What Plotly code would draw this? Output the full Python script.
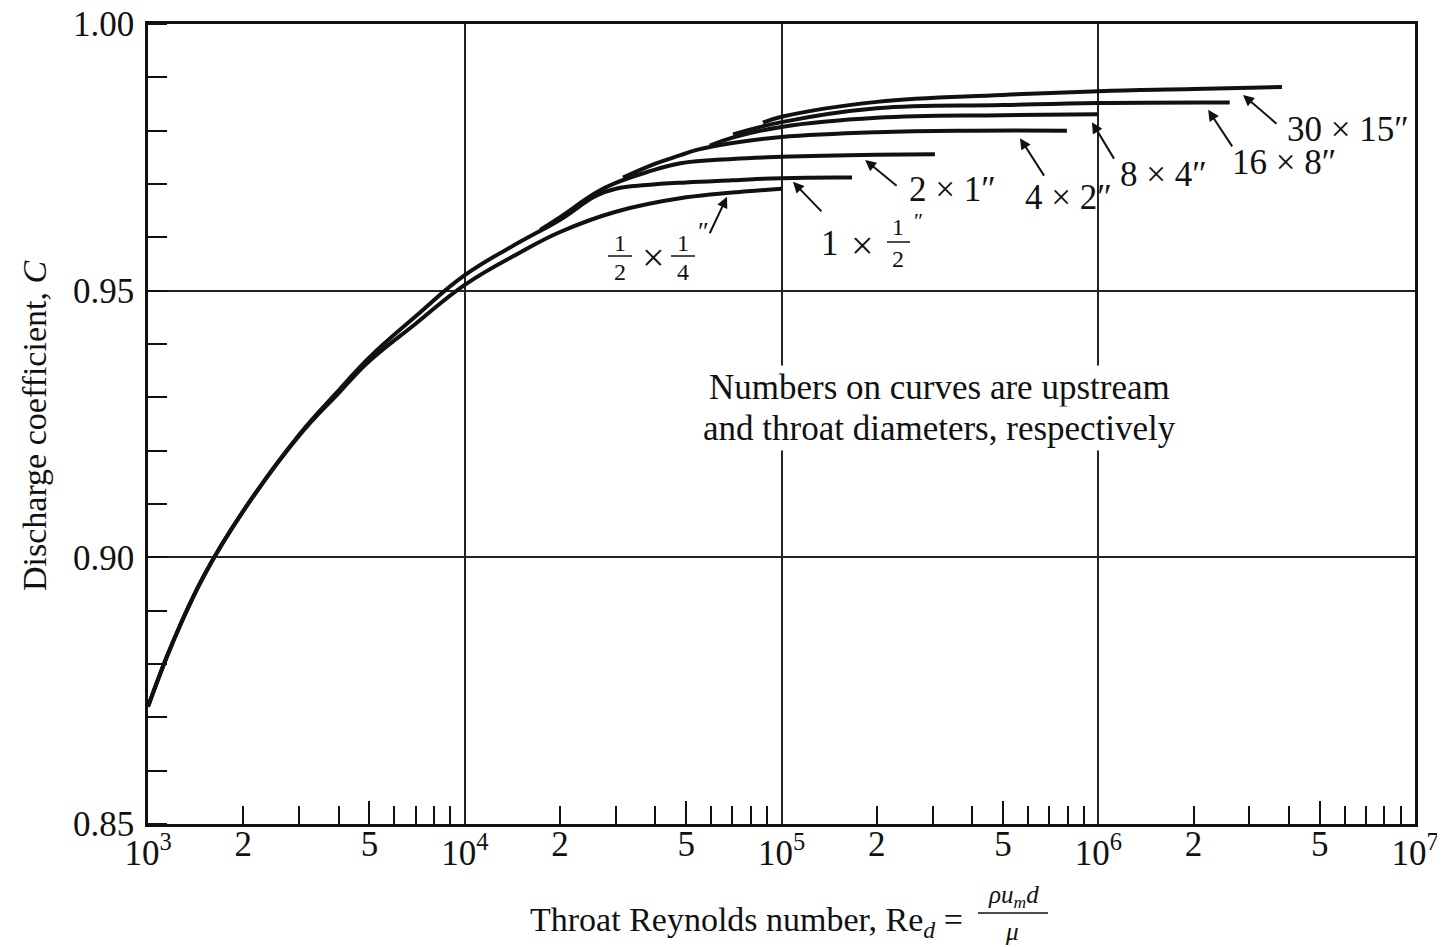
import plotly.graph_objects as go

# ---------------- data ----------------
re_half_quarter = [1000, 1200, 1500, 2000, 3000, 4000, 5000, 7000, 10000, 15000, 20000, 30000, 50000, 70000, 100000]
c_half_quarter = [0.872, 0.8842, 0.8965, 0.9087, 0.9228, 0.9308, 0.9368, 0.9438, 0.9511, 0.9572, 0.9610, 0.9648, 0.9675, 0.9684, 0.9691]

re_one_half = [1000, 1200, 1500, 2000, 3000, 4000, 5000, 7000, 10000, 15000, 20000, 26000, 30000, 37500, 50000, 70000, 100000, 167000]
c_one_half = [0.872, 0.8842, 0.8965, 0.9087, 0.9230, 0.9313, 0.9375, 0.9452, 0.9529, 0.9592, 0.9633, 0.9678, 0.9691, 0.9698, 0.9703, 0.9707, 0.9711, 0.9712]

re_two_one = [17300, 20000, 26000, 30000, 37500, 48000, 70000, 100000, 200000, 305000]
c_two_one = [0.9614, 0.9638, 0.9684, 0.9702, 0.9722, 0.9739, 0.9747, 0.9751, 0.9755, 0.9756]

re_four_two = [31600, 40000, 48000, 54000, 70000, 100000, 200000, 400000, 796000]
c_four_two = [0.9712, 0.9738, 0.9754, 0.9764, 0.9777, 0.9788, 0.9797, 0.9800, 0.9800]

re_eight_four = [59400, 70000, 100000, 200000, 500000, 1000000]
c_eight_four = [0.9772, 0.9787, 0.9807, 0.9824, 0.9829, 0.9831]

re_sixteen_eight = [70300, 100000, 200000, 500000, 1000000, 2600000]
c_sixteen_eight = [0.9793, 0.9816, 0.9842, 0.9848, 0.9852, 0.9853]

re_thirty_fifteen = [87400, 100000, 200000, 500000, 1000000, 2000000, 3800000]
c_thirty_fifteen = [0.9815, 0.9826, 0.9854, 0.9867, 0.9874, 0.9878, 0.9882]

decades = [1e3, 1e4, 1e5, 1e6, 1e7]
decade_labels = ["10<sup>3</sup>", "10<sup>4</sup>", "10<sup>5</sup>", "10<sup>6</sup>", "10<sup>7</sup>"]
label_mults = [2, 5]
minor_mults = [2, 3, 4, 6, 7, 8, 9]
y_ticks = [0.85, 0.90, 0.95, 1.00]
y_labels = ["0.85", "0.90", "0.95", "1.00"]

# curve label -> arrow head (log10 Re, C) and tail offset in px
arrow_heads = [
    (6.457, 0.9867, 35, 30),
    (6.347, 0.9839, 25, 38),
    (5.980, 0.9816, 23, 38),
    (5.753, 0.9786, 25, 39),
    (5.264, 0.9745, 33, 27),
    (5.036, 0.9704, 30, 31),
    (4.828, 0.9676, -18, 38),
]

# ---------------- figure ----------------
FONT = "Liberation Serif"
INK = "#111111"
OFF = 8                      # page body margin
W, H = 1445 - OFF, 947 - OFF
L, R, T, B = 148 - OFF, 30, 24 - OFF, (H + OFF) - 824
PW, PH = W - L - R, H - T - B


def P(px, py):
    # page pixel -> paper coordinates
    return (px - OFF - L) / PW, (H - B - (py - OFF)) / PH


fig = go.Figure()
curves = [
    (re_half_quarter, c_half_quarter, "x2"),
    (re_one_half, c_one_half, "x3"),
    (re_two_one, c_two_one, "x"),
    (re_four_two, c_four_two, "x"),
    (re_eight_four, c_eight_four, "x"),
    (re_sixteen_eight, c_sixteen_eight, "x"),
    (re_thirty_fifteen, c_thirty_fifteen, "x"),
]
for xs, ys, xa in curves:
    fig.add_trace(go.Scatter(x=xs, y=ys, mode="lines", xaxis=xa, yaxis="y",
                             line=dict(color=INK, width=4, shape="spline", smoothing=1.2),
                             hoverinfo="skip", showlegend=False))

two_five_vals, two_five_text, five_vals, minor_vals = [], [], [], []
for d in decades[:-1]:
    for m in label_mults:
        two_five_vals.append(m * d)
        two_five_text.append(str(m))
    five_vals.append(5 * d)
    for m in minor_mults:
        minor_vals.append(m * d)

tickfont = dict(family=FONT, size=35, color=INK)
fig.update_layout(
    width=W, height=H,
    margin=dict(l=L, r=R, t=T, b=B, autoexpand=False),
    paper_bgcolor="white", plot_bgcolor="white",
    font=dict(family=FONT, color=INK),
    xaxis=dict(type="log", range=[3, 7], tickmode="array", tickvals=decades, ticktext=decade_labels,
               ticks="", showgrid=True, gridcolor="#222222", gridwidth=2, automargin=False,
               showline=True, linecolor=INK, linewidth=2.5, mirror=True, ticklabeloverflow="allow",
               tickfont=tickfont, ticklabelstandoff=-4, zeroline=False,
               minor=dict(tickmode="array", tickvals=minor_vals, ticks="inside", ticklen=18,
                          tickwidth=2, tickcolor=INK, showgrid=False)),
    xaxis2=dict(type="log", range=[3, 7], overlaying="x", anchor="y", side="bottom",
                tickmode="array", tickvals=two_five_vals, ticktext=two_five_text, automargin=False,
                ticks="", showgrid=False, showline=False, zeroline=False, ticklabeloverflow="allow",
                tickfont=tickfont, ticklabelstandoff=-4),
    xaxis3=dict(type="log", range=[3, 7], overlaying="x", anchor="y", side="bottom",
                tickmode="array", tickvals=five_vals, ticks="inside", ticklen=23, tickwidth=2,
                automargin=False,
                tickcolor=INK, showticklabels=False, showgrid=False, showline=False, zeroline=False),
    yaxis=dict(range=[0.85, 1.00], tickmode="array", tickvals=y_ticks, ticktext=y_labels,
               ticks="", showgrid=True, gridcolor="#222222", gridwidth=2, automargin=False,
               showline=True, linecolor=INK, linewidth=2.5, mirror=True, zeroline=False,
               tickfont=tickfont, ticklabelstandoff=4, ticklabeloverflow="allow",
               minor=dict(dtick=0.01, ticks="inside", ticklen=19, tickwidth=2, tickcolor=INK,
                          showgrid=False)),
)

ann = []
shapes = []


def txt(s, px, py, size=35, bg=None, angle=0):
    x, y = P(px, py)
    d = dict(text=s, x=x, y=y, xref="paper", yref="paper", xanchor="center", yanchor="middle",
             showarrow=False, font=dict(family=FONT, size=size, color=INK), textangle=angle,
             borderpad=0)
    if bg:
        d["bgcolor"] = bg
        d["borderpad"] = 2
    ann.append(d)


def bar(px0, px1, py):
    x0, y = P(px0, py)
    x1, _ = P(px1, py)
    shapes.append(dict(type="line", xref="paper", yref="paper", x0=x0, x1=x1, y0=y, y1=y,
                       line=dict(color=INK, width=1.5)))


# note text
txt("Numbers on curves are upstream", 939, 388, bg="white")
txt("and throat diameters, respectively", 939, 428, bg="white")

# curve labels
txt("2 × 1″", 952, 189)
txt("4 × 2″", 1068, 197)
txt("8 × 4″", 1163, 174)
txt("16 × 8″", 1284, 163)
txt("30 × 15″", 1348, 130)

# 1 x 1/2"
txt("1", 830, 243)
txt("×", 862, 245, size=40)
txt("1", 898, 227, size=24)
bar(887, 910, 242)
txt("2", 898, 259, size=24)
txt("″", 918, 221, size=22)

# 1/2 x 1/4"
txt("1", 620, 243, size=24)
bar(608, 632, 256)
txt("2", 620, 272, size=24)
txt("×", 653, 257, size=40)
txt("1", 683, 243, size=24)
bar(671, 695, 256)
txt("4", 683, 272, size=24)
txt("″", 703, 231, size=26)

# arrows
for lx, cy, dx, dy in arrow_heads:
    ann.append(dict(text="", x=lx, y=cy, xref="x", yref="y", ax=dx, ay=dy, showarrow=True,
                    arrowhead=2, arrowsize=1.1, arrowwidth=2, arrowcolor=INK, standoff=0))

# axis titles
txt("Discharge coefficient, <i>C</i>", 35, 426, size=34, angle=-90)
txt("Throat Reynolds number, Re<sub><i>d</i></sub> =", 746, 922, size=34)
txt("<i>ρu<sub>m</sub>d</i>", 1013, 896, size=25)
bar(978, 1048, 913)
txt("<i>μ</i>", 1012, 931, size=25)

fig.update_layout(annotations=ann, shapes=shapes)
fig.write_html("out.html")
